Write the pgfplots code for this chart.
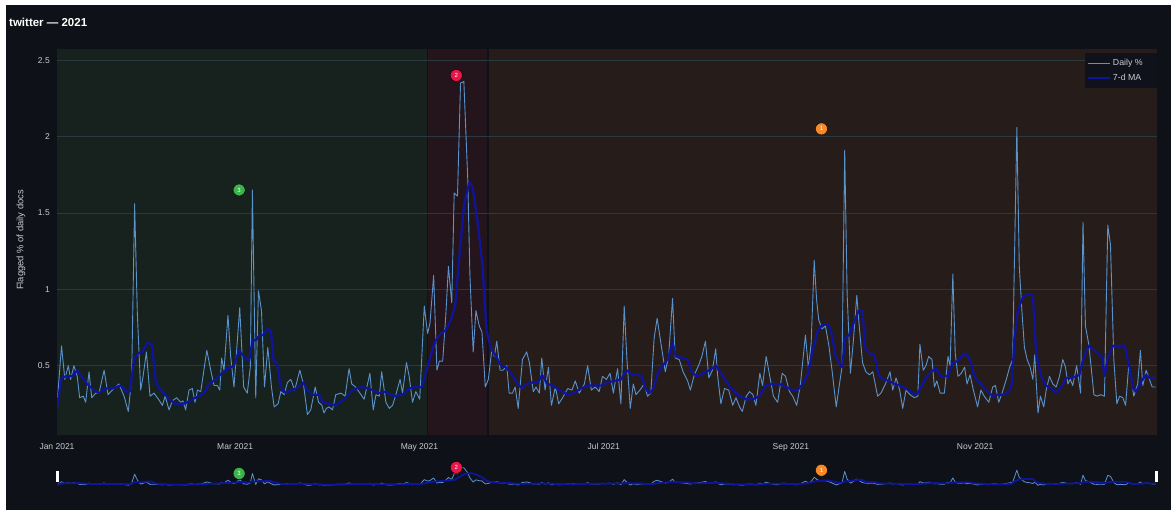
\documentclass[border=0pt]{standalone}
\usepackage{fontspec}
\setmainfont{Liberation Sans}
\usepackage{pgfplots}
\usepackage{pgfplotstable}
\pgfplotsset{compat=1.18}

\definecolor{pagebg}{HTML}{0E1117}
\definecolor{greenreg}{HTML}{17221E}
\definecolor{redreg}{HTML}{23151B}
\definecolor{brownreg}{HTML}{261D1B}
\definecolor{gridcol}{HTML}{2C3840}
\definecolor{dailycol}{HTML}{5A93CC}
\definecolor{macol}{HTML}{10149C}
\definecolor{tickcol}{HTML}{C8CBD0}
\definecolor{legbg}{HTML}{0F121A}
\definecolor{mkgreen}{HTML}{3CB44B}
\definecolor{mkred}{HTML}{E8174A}
\definecolor{mkorange}{HTML}{F58A2B}

% daily share, x = day of year (0 = 1 Jan)
\pgfplotstableread{
d v
0 0.24
1.5 0.63
2.6 0.41
3.75 0.50
4.5 0.41
5.6 0.50
6.7 0.43
7.5 0.29
8.7 0.30
9.5 0.26
10.6 0.46
11.5 0.29
12.8 0.32
13.9 0.32
15.6 0.47
16.9 0.31
18.3 0.34
20.5 0.38
22.2 0.30
23.6 0.20
24.7 0.41
25.7 1.56
26.6 0.84
27.7 0.34
28.5 0.43
29.6 0.59
30.8 0.30
32.1 0.32
33.6 0.28
34.9 0.24
35.8 0.30
37.1 0.21
38.2 0.27
39.6 0.29
41.0 0.26
41.7 0.27
42.6 0.21
43.7 0.34
44.8 0.35
45.7 0.26
46.5 0.34
47.6 0.33
49.6 0.60
50.9 0.47
52.0 0.37
53.1 0.37
53.9 0.34
54.5 0.55
55.3 0.47
56.6 0.83
57.5 0.56
58.6 0.36
60.5 0.88
61.8 0.36
63.0 0.32
64.0 0.49
64.7 1.65
65.8 0.29
66.7 0.99
67.7 0.86
68.7 0.36
69.8 0.62
71.0 0.36
71.9 0.23
73.2 0.25
74.1 0.33
75.2 0.31
76.3 0.39
77.4 0.41
78.7 0.34
80.4 0.47
81.6 0.38
82.9 0.18
84.0 0.21
85.5 0.36
86.6 0.26
87.7 0.24
88.4 0.19
89.2 0.22
90.1 0.23
91.2 0.21
92.3 0.31
94.0 0.32
95.4 0.30
96.7 0.48
97.6 0.38
98.9 0.36
100.3 0.32
101.7 0.28
103.6 0.45
104.7 0.21
105.6 0.31
106.7 0.30
107.5 0.46
108.9 0.26
110.0 0.22
111.1 0.24
112.2 0.31
113.6 0.41
114.4 0.32
115.7 0.52
116.6 0.43
117.7 0.26
118.8 0.33
120.1 0.28
121.6 0.89
122.7 0.71
123.5 0.78
124.7 1.09
125.8 0.47
126.6 0.53
127.7 0.53
128.7 0.82
129.6 1.15
130.7 0.91
131.5 1.63
132.6 1.61
133.6 2.35
134.7 2.36
136.0 1.72
136.7 1.10
137.8 0.59
138.7 0.86
139.8 0.76
140.7 0.72
141.8 0.36
142.8 0.41
144.0 0.61
144.8 0.56
145.6 0.66
146.7 0.47
147.7 0.47
148.9 0.50
149.7 0.32
150.8 0.32
151.7 0.36
152.7 0.22
154.1 0.54
155.5 0.59
156.4 0.52
157.7 0.33
158.6 0.36
159.7 0.32
160.5 0.55
161.6 0.34
162.7 0.49
163.7 0.24
165.0 0.36
166.1 0.25
167.4 0.29
169.1 0.35
170.5 0.34
171.6 0.40
172.9 0.32
174.6 0.38
175.7 0.50
176.9 0.34
178.2 0.36
179.5 0.33
180.6 0.43
181.9 0.41
183.1 0.45
184.2 0.32
185.6 0.48
186.7 0.25
187.8 0.89
188.7 0.54
189.8 0.22
190.8 0.38
191.7 0.31
193.0 0.34
194.4 0.38
195.5 0.30
196.6 0.32
197.7 0.68
198.7 0.81
200.0 0.64
201.4 0.46
202.5 0.56
203.8 0.94
204.7 0.55
206.0 0.54
207.3 0.46
208.8 0.40
209.7 0.34
211.0 0.44
212.4 0.50
213.5 0.56
214.7 0.66
215.8 0.42
217.0 0.47
218.1 0.61
218.7 0.44
219.8 0.25
221.0 0.35
222.4 0.34
223.7 0.24
224.8 0.29
226.0 0.23
226.9 0.20
228.2 0.30
229.3 0.33
230.4 0.31
231.4 0.24
232.7 0.45
233.6 0.37
234.8 0.56
236.0 0.43
237.2 0.30
238.6 0.26
240.1 0.45
241.2 0.43
242.5 0.33
243.6 0.30
244.9 0.24
246.1 0.37
247.8 0.70
248.8 0.48
249.7 0.65
250.7 1.19
251.5 0.93
252.2 0.80
253.3 0.74
254.4 0.76
255.5 0.64
256.6 0.47
258.0 0.23
259.0 0.37
259.9 0.49
260.8 1.91
261.6 0.97
262.7 0.45
263.7 0.67
264.8 0.96
265.6 0.76
266.7 0.52
267.8 0.46
269.0 0.44
270.1 0.46
271.7 0.30
272.8 0.32
274.3 0.38
275.8 0.46
276.7 0.34
277.8 0.42
279.0 0.34
280.0 0.22
281.1 0.34
282.4 0.31
283.9 0.29
285.0 0.30
285.7 0.64
286.8 0.47
287.7 0.50
288.6 0.56
289.7 0.54
290.5 0.36
291.3 0.40
292.4 0.32
293.8 0.32
295.0 0.56
295.7 0.50
296.6 1.10
297.4 0.58
298.3 0.43
299.4 0.45
300.5 0.49
301.3 0.38
302.3 0.44
303.4 0.34
304.8 0.23
305.9 0.34
307.0 0.30
308.5 0.26
309.8 0.36
310.7 0.37
311.8 0.26
312.9 0.32
314.3 0.41
315.4 0.49
316.4 0.54
317.8 2.06
318.6 1.15
319.5 0.85
320.3 0.62
321.2 0.54
322.2 0.49
323.1 0.41
323.7 0.57
324.8 0.19
325.6 0.30
326.7 0.23
327.5 0.34
328.6 0.43
329.7 0.38
330.8 0.36
331.9 0.43
333.0 0.54
333.9 0.49
334.7 0.38
335.5 0.41
336.3 0.37
337.6 0.50
338.9 0.32
339.7 1.44
340.5 0.76
341.6 0.64
342.4 0.49
343.3 0.31
344.4 0.30
345.5 0.31
346.8 0.30
347.9 1.42
348.8 1.29
349.9 0.54
350.9 0.25
351.8 0.30
352.9 0.29
353.8 0.24
354.9 0.52
355.6 0.43
356.5 0.30
357.8 0.38
358.7 0.60
359.5 0.37
360.6 0.47
361.7 0.41
362.6 0.36
363.7 0.36
}\daily

% 7-day moving average
\pgfplotstableread{
d v
0 0.23
1.5 0.42
2.9 0.43
5.0 0.43
6.7 0.47
8.4 0.42
10.0 0.38
12.3 0.34
13.9 0.32
16.1 0.35
18.3 0.35
21.0 0.37
23.0 0.33
24.1 0.33
25.5 0.54
26.9 0.58
28.3 0.59
29.9 0.65
31.4 0.64
32.7 0.40
33.8 0.35
35.4 0.32
37.1 0.28
39.3 0.25
41.5 0.25
43.2 0.26
44.8 0.28
47.0 0.30
48.7 0.32
50.3 0.38
52.6 0.41
54.5 0.45
56.4 0.48
58.6 0.50
60.3 0.60
61.9 0.56
63.6 0.53
64.7 0.66
66.0 0.67
67.1 0.70
68.2 0.70
69.7 0.74
70.8 0.73
71.7 0.53
72.8 0.52
74.1 0.36
75.7 0.32
77.4 0.34
79.1 0.35
81.5 0.39
82.9 0.34
84.6 0.31
86.8 0.31
87.9 0.26
90.1 0.25
92.3 0.24
95.1 0.28
97.8 0.34
100.6 0.36
103.3 0.35
106.7 0.32
108.9 0.33
111.6 0.30
114.4 0.31
116.6 0.35
118.8 0.36
120.8 0.36
123.2 0.53
125.2 0.66
127.1 0.71
128.7 0.73
130.4 0.80
131.8 0.89
133.2 1.21
134.8 1.56
136.5 1.70
137.6 1.67
139.2 1.45
140.9 1.15
142.2 0.73
143.7 0.61
145.3 0.56
147.0 0.50
148.6 0.49
150.3 0.45
152.5 0.38
154.0 0.35
155.5 0.38
157.5 0.39
159.2 0.39
160.6 0.44
162.4 0.38
164.1 0.37
166.3 0.34
168.0 0.32
169.6 0.31
171.8 0.33
173.5 0.35
175.7 0.37
177.9 0.37
180.1 0.37
182.3 0.39
184.5 0.40
186.7 0.41
188.6 0.47
190.6 0.44
192.2 0.44
193.7 0.43
194.8 0.35
196.1 0.32
197.2 0.34
198.9 0.45
200.5 0.50
202.2 0.54
203.8 0.65
204.9 0.56
207.1 0.55
208.8 0.54
210.4 0.45
212.1 0.43
213.8 0.45
216.0 0.47
218.2 0.50
219.8 0.45
221.5 0.40
223.7 0.34
226.0 0.30
228.2 0.28
230.4 0.28
232.5 0.30
234.7 0.37
236.9 0.38
239.2 0.38
241.4 0.36
243.6 0.34
245.2 0.34
246.9 0.38
248.5 0.44
250.2 0.60
251.9 0.73
253.5 0.77
255.5 0.77
256.6 0.70
257.7 0.57
258.8 0.52
259.9 0.49
261.0 0.68
262.3 0.70
264.0 0.79
265.4 0.86
266.7 0.86
267.6 0.61
269.0 0.58
270.6 0.57
272.0 0.44
273.4 0.41
275.6 0.40
277.3 0.38
279.0 0.37
281.1 0.35
283.3 0.32
284.6 0.31
286.1 0.36
287.7 0.42
289.4 0.46
291.0 0.48
292.7 0.43
295.0 0.43
296.6 0.52
298.3 0.53
300.0 0.57
301.1 0.58
302.6 0.52
303.7 0.43
305.4 0.39
307.6 0.34
309.8 0.30
311.5 0.31
313.7 0.31
315.4 0.34
316.1 0.38
317.0 0.67
318.1 0.86
319.8 0.95
321.4 0.97
323.1 0.96
324.2 0.58
325.8 0.43
327.5 0.37
329.2 0.35
330.8 0.32
332.5 0.36
334.1 0.42
335.8 0.42
337.4 0.43
338.5 0.44
339.9 0.55
341.6 0.63
343.5 0.60
345.1 0.57
346.0 0.56
346.8 0.43
347.9 0.55
349.6 0.63
351.3 0.63
353.5 0.63
355.1 0.49
356.3 0.35
357.3 0.33
359.1 0.40
360.6 0.44
361.7 0.42
363.7 0.42
}\ma

\pgfplotsset{
  mk/.style={only marks, mark=*, mark size=6pt, mark options={draw=none, fill=#1},
    every node near coord/.style={anchor=center, text=white, inner sep=0pt,
      font=\fontsize{6}{6}\selectfont}, forget plot},
  region/.style={on layer=axis background, draw=none, fill=#1, forget plot},
}

\begin{document}
\begin{tikzpicture}[x=1pt,y=1pt]
\node[anchor=west, inner sep=0pt, text=white,
  font=\fontsize{11.5}{12}\selectfont\bfseries] at (9,488) {twitter — 2021};
\node[rotate=90, text=tickcol, font=\fontsize{9.4}{10}\selectfont] at (21,270)
  {Flagged \% of daily docs};

\begin{axis}[
  set layers,
  at={(57pt,75pt)}, anchor=south west,
  width=1100pt, height=386pt, scale only axis,
  xmin=0, xmax=364.2, ymin=0.046, ymax=2.573,
  axis line style={draw=none}, major tick length=0pt,
  xtick={0,59,120,181,243,304},
  xticklabels={Jan 2021,Mar 2021,May 2021,Jul 2021,Sep 2021,Nov 2021},
  ytick={0.5,1,1.5,2,2.5},
  yticklabels={0.5,1,1.5,2,2.5},
  ymajorgrids, grid style={gridcol, line width=0.7pt},
  xticklabel style={anchor=base, yshift=-15pt, inner sep=0pt},
  yticklabel style={anchor=east, xshift=-7pt, inner sep=0pt},
  tick label style={font=\fontsize{8.5}{9}\selectfont, text=tickcol},
  /pgf/number format/assume math mode=true,
  legend style={at={(1,0.9896)}, anchor=north east, fill=legbg, draw=none,
    text=tickcol, font=\fontsize{8.8}{9}\selectfont,
    inner xsep=2pt, inner ysep=4pt, row sep=3pt, cells={anchor=west}},
  legend image code/.code={\draw[#1] (0pt,0pt) -- (22pt,0pt);},
]
% page background, below the grid layer
\addplot[region=pagebg] coordinates {(-25,-0.6) (-25,3.0) (375,3.0) (375,-0.6)} -- cycle;
\addplot[region=greenreg] coordinates {(0,0.046) (0,2.573) (122.4,2.573) (122.4,0.046)} -- cycle;
\addplot[region=redreg] coordinates {(122.9,0.046) (122.9,2.573) (142.3,2.573) (142.3,0.046)} -- cycle;
\addplot[region=brownreg] coordinates {(143.1,0.046) (143.1,2.573) (364.2,2.573) (364.2,0.046)} -- cycle;

\addplot[dailycol, line width=0.9pt, line join=round] table[x=d, y=v] {\daily};
\addlegendentry{Daily \%\kern 10pt}
\addplot[macol, line width=2.2pt, line join=round] table[x=d, y=v] {\ma};
\addlegendentry{7-d MA\kern 10pt}

\addplot[mk=mkgreen, nodes near coords={3}] coordinates {(60.3,1.65)};
\addplot[mk=mkred, nodes near coords={2}] coordinates {(132.2,2.40)};
\addplot[mk=mkorange, nodes near coords={1}] coordinates {(253.1,2.05)};
\end{axis}

% range slider
\begin{axis}[
  at={(57pt,18pt)}, anchor=south west,
  width=1100pt, height=26pt, scale only axis,
  xmin=0, xmax=364.2, ymin=-0.646, ymax=2.58,
  hide axis,
]
\addplot[dailycol, line width=0.8pt, line join=round] table[x=d, y=v] {\daily};
\addplot[macol, line width=1.8pt, line join=round] table[x=d, y=v] {\ma};
\addplot[mk=mkgreen, nodes near coords={3}] coordinates {(60.3,1.65)};
\addplot[mk=mkred, nodes near coords={2}] coordinates {(132.2,2.40)};
\addplot[mk=mkorange, nodes near coords={1}] coordinates {(253.1,2.05)};
\end{axis}
\fill[white] (55.5,28.3) rectangle (58.5,39.3);
\fill[white] (1155,28.3) rectangle (1158,39.3);
\fill[white] (0,505) rectangle (1171,510);
\fill[white] (0,0) rectangle (6,510);
\pgfresetboundingbox
\path[use as bounding box] (0,0) rectangle (1171,510);
\end{tikzpicture}
\end{document}
